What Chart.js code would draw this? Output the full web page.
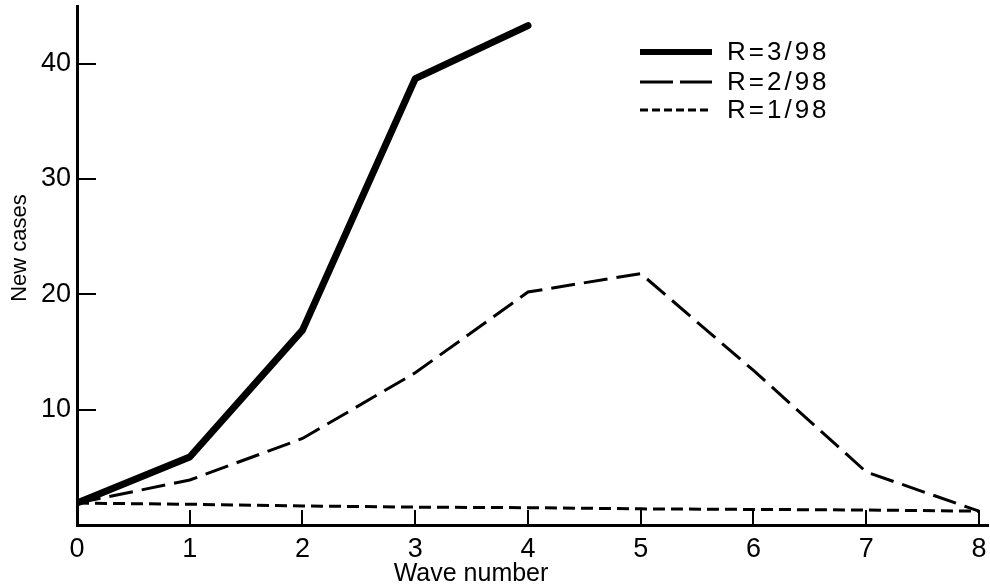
<!DOCTYPE html>
<html>
<head>
<meta charset="utf-8">
<title>New cases per wave</title>
<script src="https://cdn.jsdelivr.net/npm/chart.js@4.4.1/dist/chart.umd.min.js"></script>
<style>
    html, body { margin: 0; padding: 0; background: #fff; }
    #wrap { width: 990px; height: 588px; position: relative; }
</style>
</head>
<body>
<div id="wrap"><canvas id="chart"></canvas></div>
<script>
"use strict";

// Data läst ur figuren
const waves = [0, 1, 2, 3, 4, 5, 6, 7, 8];
const seriesLabels = ["R=3/98", "R=2/98", "R=1/98"];
const casesR3 = [1.9, 5.9, 16.9, 38.7, 43.3];
const casesR2 = [1.9, 3.9, 7.5, 13.2, 20.2, 21.8, 13.4, 4.6, 1.2];
const casesR1 = [1.9, 1.8, 1.65, 1.55, 1.5, 1.4, 1.35, 1.3, 1.2];
const yTicks = [10, 20, 30, 40];
const xTitle = "Wave number";
const yTitle = "New cases";

const FONT = "'Liberation Sans', Arial, Helvetica, sans-serif";

// gör om en serie till {x, y}-punkter
function toPoints(values) {
    return values.map((v, i) => ({ x: waves[i], y: v }));
}

// Tickstreck som pekar in i diagrammet
const innerTicks = {
    id: 'innerTicks',
    afterDatasetsDraw(chart) {
        const c = chart.ctx;
        const xs = chart.scales.x;
        const ys = chart.scales.y;
        const left = ys.right;
        const bottom = xs.top;

        c.save();
        c.setLineDash([]);
        c.strokeStyle = '#000';
        c.lineWidth = 2;
        c.beginPath();
        for (let i = 1; i < waves.length; i++) {
            const px = Math.round(xs.getPixelForValue(waves[i]));
            c.moveTo(px, bottom);
            c.lineTo(px, bottom - 15);
        }
        for (const t of yTicks) {
            const py = Math.round(ys.getPixelForValue(t));
            c.moveTo(left, py);
            c.lineTo(left + 19, py);
        }
        c.stroke();
        c.restore();
    }
};

// Axeltitlar och legend
const decorPlugin = {
    id: 'decor',
    afterDraw(chart) {
        const c = chart.ctx;

        c.save();
        c.strokeStyle = '#000';
        c.fillStyle = '#000';

        c.font = '25px ' + FONT;
        c.textAlign = 'center';
        c.textBaseline = 'middle';
        c.fillText(xTitle, 471, 574);

        c.save();
        c.translate(20, 248);
        c.rotate(-Math.PI / 2);
        c.font = '22px ' + FONT;
        c.fillText(yTitle, 0, 0);
        c.restore();

        const styles = [
            { width: 6, dash: [] },
            { width: 3, dash: [33, 7] },
            { width: 3, dash: [8, 4] }
        ];
        const rowsY = [52, 82, 110];
        c.textAlign = 'left';
        c.font = '26px ' + FONT;
        c.letterSpacing = '3px';
        seriesLabels.forEach((lab, i) => {
            c.lineWidth = styles[i].width;
            c.setLineDash(styles[i].dash);
            c.beginPath();
            c.moveTo(640, rowsY[i]);
            c.lineTo(712, rowsY[i]);
            c.stroke();
            c.fillText(lab, 727, rowsY[i] + 1);
        });
        c.restore();
    }
};

const ctx = document.getElementById('chart');

new Chart(ctx, {
    type: 'line',
    data: {
        datasets: [
            {
                label: seriesLabels[0],
                data: toPoints(casesR3),
                borderColor: '#000',
                borderWidth: 7,
                borderCapStyle: 'round',
                borderJoinStyle: 'round',
                pointRadius: 0,
                tension: 0
            },
            {
                label: seriesLabels[1],
                data: toPoints(casesR2),
                borderColor: '#000',
                borderWidth: 3,
                borderDash: [24, 9],
                pointRadius: 0,
                tension: 0
            },
            {
                label: seriesLabels[2],
                data: toPoints(casesR1),
                borderColor: '#000',
                borderWidth: 3,
                borderDash: [12, 6],
                pointRadius: 0,
                tension: 0
            }
        ]
    },
    options: {
        responsive: true,
        maintainAspectRatio: false,
        animation: false,
        layout: {
            padding: { top: 6, right: 2, left: 0, bottom: 0 }
        },
        scales: {
            x: {
                type: 'linear',
                min: 0,
                max: 8.08,
                grid: { display: false, drawTicks: false },
                border: { display: true, color: '#000', width: 3 },
                ticks: {
                    stepSize: 1,
                    includeBounds: false,
                    padding: 8,
                    color: '#000',
                    maxRotation: 0,
                    font: { family: FONT, size: 27 }
                },
                afterFit(scale) {
                    scale.height = 63;
                    scale.paddingLeft = 0;
                    scale.paddingRight = 0;
                }
            },
            y: {
                min: 0,
                max: 45,
                grid: { display: false, drawTicks: false },
                border: { display: true, color: '#000', width: 3 },
                ticks: {
                    stepSize: 10,
                    includeBounds: false,
                    padding: 6,
                    color: '#000',
                    font: { family: FONT, size: 27 },
                    callback: v => (yTicks.includes(v) ? v : '')
                },
                afterFit(scale) {
                    scale.width = 77;
                    scale.paddingTop = 0;
                    scale.paddingBottom = 0;
                }
            }
        },
        plugins: {
            legend: { display: false },
            tooltip: { enabled: false }
        }
    },
    plugins: [innerTicks, decorPlugin]
});
</script>
</body>
</html>
